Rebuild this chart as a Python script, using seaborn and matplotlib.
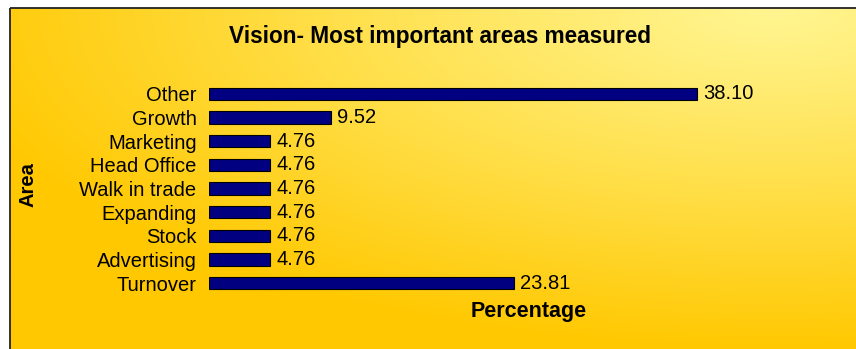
import numpy as np
import pandas as pd
import matplotlib
matplotlib.use("Agg")
import matplotlib.pyplot as plt
from matplotlib.patches import Rectangle
from matplotlib.colors import to_rgb
import seaborn as sns

areas = ["Other", "Growth", "Marketing", "Head Office", "Walk in trade",
         "Expanding", "Stock", "Advertising", "Turnover"]
percentages = [38.10, 9.52, 4.76, 4.76, 4.76, 4.76, 4.76, 4.76, 23.81]

title = "Vision- Most important areas measured"
x_label = "Percentage"
y_label = "Area"

sns.set_theme(style="white")
plt.rcParams["font.family"] = ["Liberation Sans", "DejaVu Sans"]

W, H = 856, 349
fig = plt.figure(figsize=(W / 100, H / 100), dpi=100)
fig.patch.set_facecolor("white")

# gold background panel with a soft gradient, lighter towards the top right
bg = fig.add_axes([0, 0, 1, 1], zorder=0)
bg.set_xlim(0, W)
bg.set_ylim(H, 0)
bg.axis("off")
gx, gy = np.meshgrid(np.linspace(0, 1, 400), np.linspace(0, 1, 200))
d = np.sqrt(((gx - 0.9) / 1.0) ** 2 + ((gy - 0.0) / 1.0) ** 2)
d = np.clip(d, 0, 1) ** 1.1
light = np.array(to_rgb("#FFF590"))
dark = np.array(to_rgb("#FFC800"))
img = light[None, None, :] * (1 - d[..., None]) + dark[None, None, :] * d[..., None]
bg.imshow(img, extent=[10, W + 2, H + 2, 8], aspect="auto", interpolation="bilinear")
bg.add_patch(Rectangle((10, 8), W, H, fill=False, edgecolor="#222222", lw=1.3))

df = pd.DataFrame({"Area": areas, "Percentage": percentages})

ax = fig.add_axes([209 / W, 54 / H, 640 / W, 213 / H], zorder=1)
ax.patch.set_alpha(0)
sns.barplot(data=df, x="Percentage", y="Area", orient="h", order=areas,
            color="#000080", saturation=1, width=0.52,
            edgecolor="black", linewidth=0.8, ax=ax)
ax.set_xlim(0, 50)
for s in ax.spines.values():
    s.set_visible(False)
ax.set_xticks([])
ax.tick_params(axis="y", length=0, pad=9, labelsize=14.5)
for lab in ax.get_yticklabels():
    lab.set_color("black")

for p, v in zip(ax.patches, percentages):
    y = p.get_y() + p.get_height() / 2
    ax.text(p.get_width() + 0.5, y, f"{v:.2f}", va="center", ha="left",
            fontsize=14.5, color="black")

ax.set_xlabel(x_label, fontsize=15.5, fontweight="bold", labelpad=4, color="black")
ax.set_ylabel("")
fig.text(28 / W, 1 - 185 / H, y_label, rotation=90, ha="center", va="center",
         fontsize=14.5, fontweight="bold", color="black")
fig.text(440 / W, 1 - 37 / H, title, ha="center", va="center",
         fontsize=16.3, fontweight="bold", color="black")

fig.savefig("out.png", dpi=100)
